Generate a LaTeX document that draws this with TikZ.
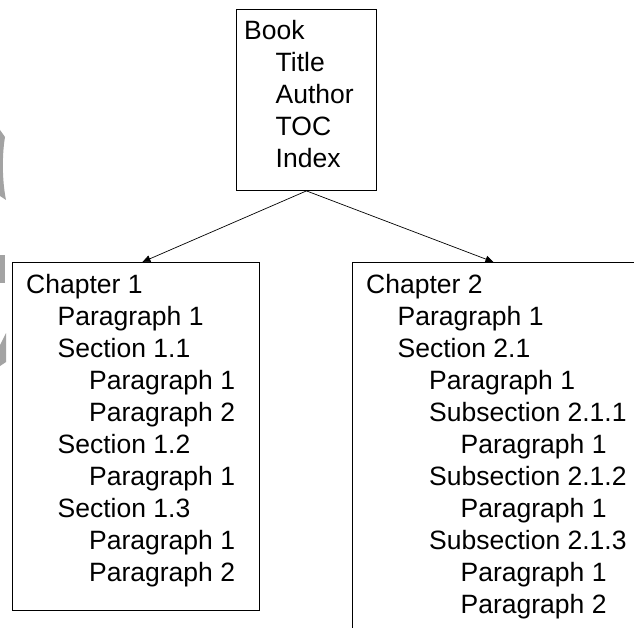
\documentclass[tikz,border=0pt]{standalone}
\usepackage{fontspec}
\setmainfont{Liberation Sans}
\usepackage{tikz}
\usetikzlibrary{arrows.meta}
\usepackage{xcolor}
\definecolor{marca}{gray}{0.64}

\begin{document}
\begin{tikzpicture}[x=1pt, y=1pt,
        caja/.style={draw, line width=0.9pt, anchor=north west, inner sep=0pt},
        fila/.style={anchor=base west, inner sep=0pt, font=\fontsize{26.5}{32}\selectfont},
        flecha/.style={-{Triangle[length=8pt,width=7pt]}, line width=0.7pt}]
        % Región de dibujo: 634 x 628
        \useasboundingbox[fill=white] (0,0) rectangle (634,-628);
        \clip (0,0) rectangle (634,-628);

        % Restos grises en el borde izquierdo
        \fill[marca] (0,-130) -- (5,-137) .. controls (2,-155) and (2,-180) .. (6,-200) -- (0,-196) -- cycle;
        \fill[marca] (0,-255) rectangle (5,-283);
        \fill[marca] (0,-345) -- (6,-333) -- (6,-362) -- (0,-366) -- cycle;

        % Cajas
        \node[caja, minimum width=140pt, minimum height=181pt] (libro) at (236,-9) {};
        \node[caja, minimum width=247pt, minimum height=348pt] (cap1) at (12,-262) {};
        \node[caja, minimum width=290pt, minimum height=385pt] (cap2) at (352,-262) {};

        % Texto: nivel/etiqueta, sangría de 31.5pt por nivel y 32pt entre líneas
        \foreach \nivel/\etiq [count=\i] in {0/Book, 1/Title, 1/Author, 1/TOC, 1/Index}
            \node[fila] (libro-\i) at ([shift={(8+31.5*\nivel,1-32*\i)}]libro.north west) {\etiq};
        \foreach \nivel/\etiq [count=\i] in {0/Chapter 1, 1/Paragraph 1, 1/Section 1.1, 2/Paragraph 1,
                2/Paragraph 2, 1/Section 1.2, 2/Paragraph 1, 1/Section 1.3, 2/Paragraph 1, 2/Paragraph 2}
            \node[fila] (cap1-\i) at ([shift={(14+31.5*\nivel,1-32*\i)}]cap1.north west) {\etiq};
        \foreach \nivel/\etiq [count=\i] in {0/Chapter 2, 1/Paragraph 1, 1/Section 2.1, 2/Paragraph 1,
                2/Subsection 2.1.1, 3/Paragraph 1, 2/Subsection 2.1.2, 3/Paragraph 1,
                2/Subsection 2.1.3, 3/Paragraph 1, 3/Paragraph 2}
            \node[fila] (cap2-\i) at ([shift={(14+31.5*\nivel,1-32*\i)}]cap2.north west) {\etiq};

        % Flechas
        \draw[flecha] (libro.south) -- ([xshift=6.5pt]cap1.north);
        \draw[flecha] (libro.south) -- ([xshift=-4pt]cap2.north);
    \end{tikzpicture}
\end{document}
